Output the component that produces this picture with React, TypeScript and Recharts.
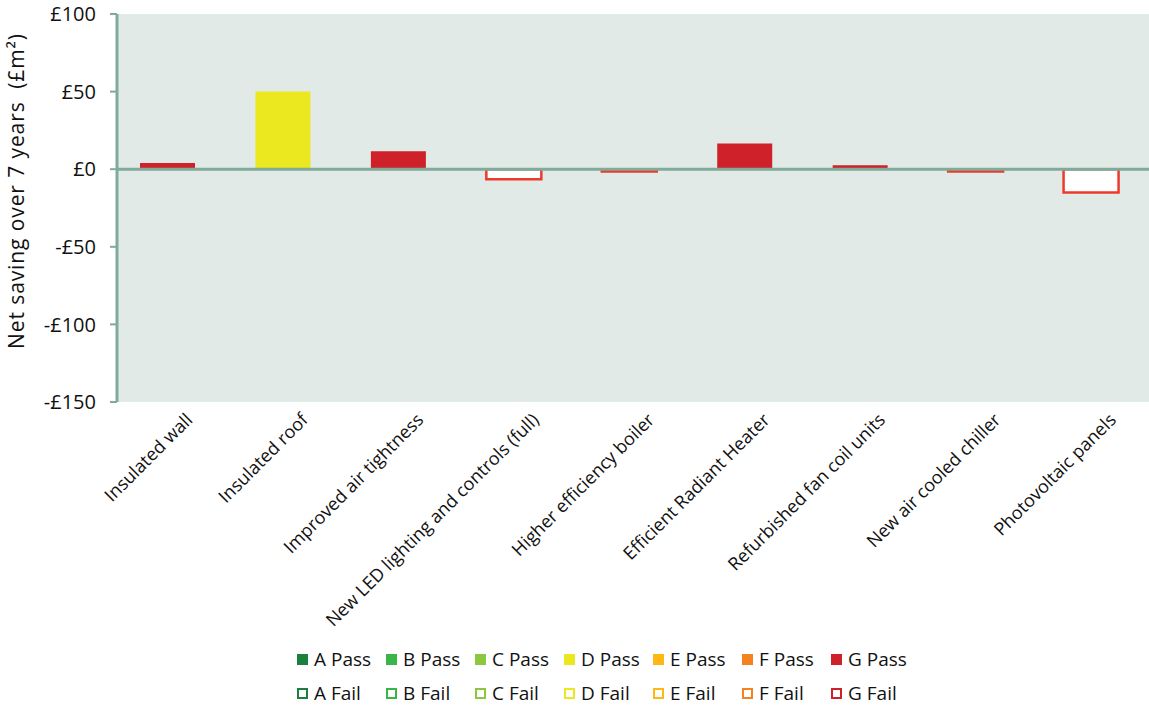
import React from "react";
import {
  Bar,
  BarChart,
  CartesianGrid,
  Cell,
  Legend,
  ReferenceLine,
  XAxis,
  YAxis,
} from "recharts";

const categories = [
  "Insulated wall",
  "Insulated roof",
  "Improved air tightness",
  "New LED lighting and controls (full)",
  "Higher efficiency boiler",
  "Efficient Radiant Heater",
  "Refurbished fan coil units",
  "New air cooled chiller",
  "Photovoltaic panels",
];
const savings = [4, 50, 11.5, -6.5, -1.5, 16.5, 2.5, -1.5, -15];
const grades = ["G", "D", "G", "G", "G", "G", "G", "G", "G"];
const passed = [true, true, true, false, false, true, true, false, false];

const legendGrades = ["A", "B", "C", "D", "E", "F", "G"];
const yTicks = [-150, -100, -50, 0, 50, 100];

const gradeColors: Record<string, string> = {
  A: "#1b7f3e",
  B: "#39b54a",
  C: "#8dc63f",
  D: "#ece81f",
  E: "#fdb813",
  F: "#f58220",
  G: "#cf2129",
};
const failStroke = "#ee3a2c";
const axisGreen = "#80ab9b";
const font = "'Open Sans', 'Noto Sans', sans-serif";

const data = categories.map((name, i) => ({
  name,
  value: savings[i],
  grade: grades[i],
  pass: passed[i],
}));

const money = (v: number) => (v < 0 ? `-£${-v}` : `£${v}`);

function XTick({ x, y, payload }: any) {
  const ax = x + 26;
  const ay = y + 19;
  return (
    <text
      x={ax}
      y={ay}
      transform={`rotate(-45, ${ax}, ${ay})`}
      textAnchor="end"
      fontSize={18}
      fontFamily={font}
      fill="#111"
    >
      {payload.value}
    </text>
  );
}

function YLabel({ viewBox }: any) {
  const cy = viewBox.y + viewBox.height / 2 - 17;
  return (
    <text
      x={24}
      y={cy}
      transform={`rotate(-90, 24, ${cy})`}
      textAnchor="middle"
      fontSize={21}
      letterSpacing={0.9}
      fontFamily={font}
      fill="#111"
    >
      Net saving over 7 years{"\u00a0\u00a0"}(£m²)
    </text>
  );
}

function LegendSwatch({ color, filled }: { color: string; filled: boolean }) {
  return (
    <span
      style={{
        display: "inline-block",
        width: filled ? 11 : 7,
        height: filled ? 11 : 7,
        background: filled ? color : "#fff",
        border: filled ? "none" : `2px solid ${color}`,
        marginRight: 6,
      }}
    />
  );
}

function ChartLegend() {
  const row = (filled: boolean) => (
    <div style={{ display: "flex", alignItems: "center", height: 34, paddingLeft: 297 }}>
      {legendGrades.map((g) => (
        <span key={g} style={{ display: "flex", alignItems: "center", width: 89 }}>
          <LegendSwatch color={gradeColors[g]} filled={filled} />
          {g} {filled ? "Pass" : "Fail"}
        </span>
      ))}
    </div>
  );
  return (
    <div
      style={{
        height: 77,
        width: 1149,
        paddingTop: 10,
        boxSizing: "border-box",
        fontFamily: font,
        fontSize: 19,
        color: "#111",
        whiteSpace: "nowrap",
      }}
    >
      {row(true)}
      {row(false)}
    </div>
  );
}

export default function App() {
  return (
    <div style={{ position: "absolute", left: 0, top: 0, background: "#fff" }}>
      <BarChart
        width={1149}
        height={709}
        data={data}
        margin={{ top: 14, right: 0, left: 0, bottom: 0 }}
      >
        <CartesianGrid horizontal={false} vertical={false} fill="#e1eae6" />
        <XAxis
          dataKey="name"
          axisLine={false}
          tickLine={false}
          tickSize={0}
          tickMargin={0}
          interval={0}
          height={230}
          padding={{ left: -7, right: 0 }}
          tick={<XTick />}
        />
        <YAxis
          width={117}
          domain={[-150, 100]}
          ticks={yTicks}
          interval={0}
          tickFormatter={money}
          axisLine={{ stroke: axisGreen, strokeWidth: 3 }}
          tickLine={{ stroke: axisGreen, strokeWidth: 2 }}
          tickSize={7}
          tickMargin={14}
          tick={{ fontSize: 20, fontFamily: font, fill: "#111" }}
          label={<YLabel />}
        />
        <Legend
          verticalAlign="bottom"
          align="left"
          height={77}
          wrapperStyle={{ left: 0 }}
          content={<ChartLegend />}
        />
        <Bar dataKey="value" barSize={55} isAnimationActive={false}>
          {data.map((d, i) => (
            <Cell
              key={i}
              fill={d.pass ? gradeColors[d.grade] : "#ffffff"}
              stroke={d.pass ? gradeColors[d.grade] : failStroke}
              strokeWidth={d.pass ? 0 : 2.5}
            />
          ))}
        </Bar>
        <ReferenceLine y={0} stroke={axisGreen} strokeWidth={3} />
      </BarChart>
    </div>
  );
}
